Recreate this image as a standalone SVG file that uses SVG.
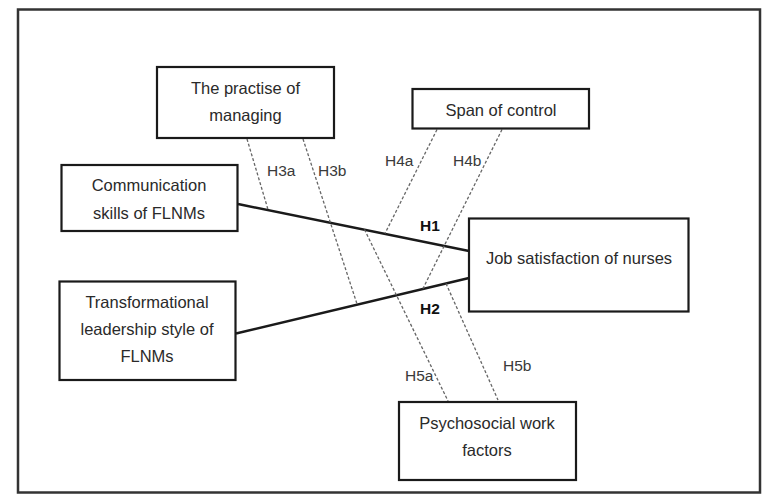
<svg xmlns="http://www.w3.org/2000/svg" width="771" height="502" viewBox="0 0 771 502">
<style>
.frame{fill:#fff;stroke:#333;stroke-width:2.5}
.box rect{fill:#fff;stroke:#1a1a1a;stroke-width:2.2}
.box text{font-family:"Liberation Sans",Arial,sans-serif;font-size:16.5px;fill:#2a2a2a;text-anchor:middle}
.solid{stroke:#1a1a1a;stroke-width:2.5;fill:none}
.dash{stroke:#666;stroke-width:1.3;stroke-dasharray:3 2;fill:none}
.lbl{font-family:"Liberation Sans",Arial,sans-serif;font-size:15.5px;fill:#3a3a3a}
.bold{font-weight:bold;fill:#111}
</style>
<rect x="0" y="0" width="771" height="502" fill="#fff"/>
<rect class="frame" x="18" y="9.5" width="742" height="483"/>
<g id="connectors">
<line class="solid" x1="238" y1="204" x2="469" y2="251"/>
<line class="solid" x1="236" y1="333.5" x2="469" y2="278"/>
<line class="dash" x1="247" y1="139" x2="268" y2="209.5"/>
<line class="dash" x1="303" y1="139" x2="357" y2="304"/>
<line class="dash" x1="437" y1="129.5" x2="385" y2="233.5"/>
<line class="dash" x1="502" y1="129.5" x2="423" y2="288.5"/>
<line class="dash" x1="364.5" y1="229.5" x2="448" y2="401"/>
<line class="dash" x1="446" y1="283.5" x2="498" y2="400"/>
<text class="lbl" x="267" y="176">H3a</text>
<text class="lbl" x="318" y="176">H3b</text>
<text class="lbl" x="385" y="166">H4a</text>
<text class="lbl" x="453" y="166">H4b</text>
<text class="lbl bold" x="420" y="231">H1</text>
<text class="lbl bold" x="420" y="314">H2</text>
<text class="lbl" x="405" y="381">H5a</text>
<text class="lbl" x="503" y="371">H5b</text>
</g>
<g id="practise" class="box">
<rect x="157" y="67" width="177" height="71"/>
<text x="245.5" y="94">The practise of</text>
<text x="245.5" y="121">managing</text>
</g>
<g id="span" class="box">
<rect x="412.5" y="89" width="176.5" height="39.5"/>
<text x="501" y="116">Span of control</text>
</g>
<g id="communication" class="box">
<rect x="61.5" y="165" width="176" height="66"/>
<text x="149" y="191">Communication</text>
<text x="149" y="219">skills of FLNMs</text>
</g>
<g id="transformational" class="box">
<rect x="59.5" y="281.5" width="176" height="98.5"/>
<text x="147" y="308">Transformational</text>
<text x="147" y="335">leadership style of</text>
<text x="147" y="362">FLNMs</text>
</g>
<g id="job" class="box">
<rect x="469" y="218.5" width="219.5" height="93"/>
<text x="579" y="264">Job satisfaction of nurses</text>
</g>
<g id="psychosocial" class="box">
<rect x="399" y="402" width="177" height="78"/>
<text x="487" y="429">Psychosocial work</text>
<text x="487" y="456">factors</text>
</g>
</svg>
